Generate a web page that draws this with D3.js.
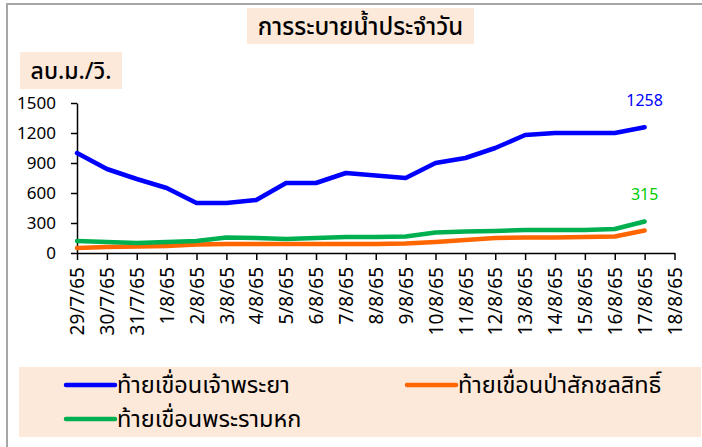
<!DOCTYPE html>
<html>
<head>
<meta charset="utf-8">
<script src="https://cdn.jsdelivr.net/npm/d3@7"></script>
<style>
  body { margin: 0; background: #fff; }
  text { font-family: "Noto Sans", "Noto Sans Thai", Tahoma, sans-serif; }
</style>
</head>
<body>
<svg id="chart" width="702" height="447"></svg>
<script>
// dates on the x axis (last one has no data)
var dates = ["29/7/65", "30/7/65", "31/7/65", "1/8/65", "2/8/65", "3/8/65", "4/8/65",
  "5/8/65", "6/8/65", "7/8/65", "8/8/65", "9/8/65", "10/8/65", "11/8/65", "12/8/65",
  "13/8/65", "14/8/65", "15/8/65", "16/8/65", "17/8/65", "18/8/65"];

// m3/s below each dam
var chaoPhraya = [1000, 840, 740, 650, 500, 500, 530, 700, 700, 800, 775, 750, 900, 950, 1050, 1180, 1200, 1200, 1200, 1258];
var pasak = [50, 60, 65, 70, 85, 90, 90, 90, 90, 90, 90, 95, 110, 130, 150, 155, 155, 160, 165, 225];
var ramHok = [120, 110, 100, 110, 120, 155, 150, 140, 150, 160, 160, 165, 205, 215, 220, 230, 230, 230, 240, 315];

var yTicks = [0, 300, 600, 900, 1200, 1500];

var series = [
  {name: "ท้ายเขื่อนเจ้าพระยา", values: chaoPhraya, color: "#0000ff"},
  {name: "ท้ายเขื่อนป่าสักชลสิทธิ์", values: pasak, color: "#ff6600"},
  {name: "ท้ายเขื่อนพระรามหก", values: ramHok, color: "#00b050"}
];

var svg = d3.select("#chart");

// outer chart frame (only left and top edges show)
svg.append("rect")
  .attr("x", 7).attr("y", 4)
  .attr("width", 720).attr("height", 460)
  .attr("fill", "#fff")
  .attr("stroke", "#a6a6a6")
  .attr("stroke-width", 2);

var x = d3.scalePoint().domain(dates).range([77, 674.5]);
var y = d3.scaleLinear().domain([0, 1500]).range([253, 103]);

// title
svg.append("rect").attr("x", 247).attr("y", 8).attr("width", 227).attr("height", 36).attr("fill", "#fde9d9");
svg.append("text").attr("x", 360.5).attr("y", 35)
  .attr("text-anchor", "middle").attr("font-size", 24).attr("font-weight", 500)
  .text("การระบายน้ำประจำวัน");

// unit label
svg.append("rect").attr("x", 20).attr("y", 52).attr("width", 102).attr("height", 37).attr("fill", "#fde9d9");
svg.append("text").attr("x", 71).attr("y", 79)
  .attr("text-anchor", "middle").attr("font-size", 23).attr("font-weight", 500)
  .text("ลบ.ม./วิ.");

// y axis
var yAxis = svg.append("g")
  .attr("transform", "translate(77,0)")
  .call(d3.axisLeft(y).tickValues(yTicks).tickFormat(d3.format("d"))
    .tickSize(6).tickSizeOuter(0).tickPadding(15));
yAxis.selectAll("text").attr("font-size", 17).attr("fill", "#000");

// x axis
var xAxis = svg.append("g")
  .attr("transform", "translate(0,253)")
  .call(d3.axisBottom(x).tickSize(7).tickSizeOuter(0));
xAxis.selectAll("text")
  .attr("font-size", 19).attr("fill", "#000")
  .attr("transform", "rotate(-90)")
  .attr("text-anchor", "end")
  .attr("x", -14).attr("y", 0).attr("dy", "0.35em");

svg.selectAll(".domain, .tick line").attr("stroke", "#000").attr("stroke-width", 1.5);

// lines
var line = d3.line()
  .x(function(d, i) { return x(dates[i]); })
  .y(function(d) { return y(d); });

svg.selectAll("path.series")
  .data(series)
  .enter().append("path")
  .attr("class", "series")
  .attr("d", function(d) { return line(d.values); })
  .attr("fill", "none")
  .attr("stroke", function(d) { return d.color; })
  .attr("stroke-width", 4.5)
  .attr("stroke-linejoin", "round")
  .attr("stroke-linecap", "round");

// value labels on the last point
var last = chaoPhraya.length - 1;
svg.append("text").attr("x", x(dates[last])).attr("y", y(chaoPhraya[last]) - 21)
  .attr("text-anchor", "middle").attr("font-size", 16).attr("fill", "#0000ff")
  .text(chaoPhraya[last]);
svg.append("text").attr("x", x(dates[last])).attr("y", y(ramHok[last]) - 22)
  .attr("text-anchor", "middle").attr("font-size", 16).attr("fill", "#00cc00")
  .text(ramHok[last]);

// legend
svg.append("rect").attr("x", 19).attr("y", 367).attr("width", 682).attr("height", 70).attr("fill", "#fde9d9");
var legPos = [[66, 385], [407, 385], [66, 419]];
var leg = svg.selectAll("g.leg")
  .data(series)
  .enter().append("g")
  .attr("class", "leg")
  .attr("transform", function(d, i) { return "translate(" + legPos[i][0] + "," + legPos[i][1] + ")"; });
leg.append("line")
  .attr("x1", 0).attr("x2", 49)
  .attr("stroke", function(d) { return d.color; })
  .attr("stroke-width", 4.5)
  .attr("stroke-linecap", "round");
leg.append("text")
  .attr("x", 51).attr("y", 8)
  .attr("font-size", 23.5)
  .text(function(d) { return d.name; });
</script>
</body>
</html>
